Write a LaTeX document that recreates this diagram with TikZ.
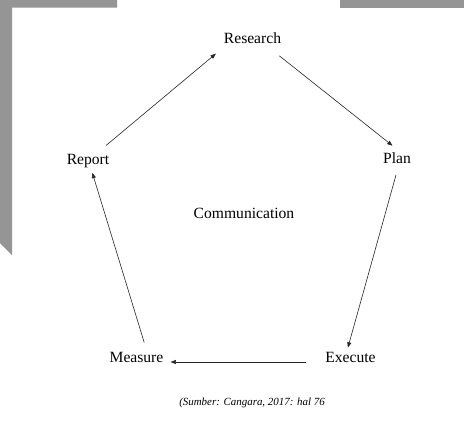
\documentclass[tikz,border=0pt]{standalone}
\usepackage{fontspec}
\setmainfont{Liberation Serif}
\usetikzlibrary{arrows.meta}
\definecolor{margingray}{HTML}{959595}

\begin{document}
\begin{tikzpicture}[x=0.75pt, y=-0.75pt, > = {Triangle[length=4pt, width=3pt]},
    stage/.style = {anchor=base, inner sep=2pt, font=\fontsize{11.7}{14}\selectfont},
    flow/.style = {->, line width=0.45pt, draw=black!85}]

    % page and margins
    \useasboundingbox (0,0) rectangle (464,430);
    \fill[white] (0,0) rectangle (464,430);
    \fill[margingray] (0,0) -- (117,0) -- (117,7.5) -- (12,7.5) -- (12,255) -- (0,243) -- cycle;
    \fill[margingray] (340,0) rectangle (464,7.5);

    % stages
    \node[stage] (research) at (252.5,43) {Research};
    \node[stage] (plan) at (397,163) {Plan};
    \node[stage] (execute) at (350.5,362) {Execute};
    \node[stage] (measure) at (136.5,362) {Measure};
    \node[stage] (report) at (88,164) {Report};
    \node[stage] (comm) at (244,218) {Communication};
    \node[anchor=base, font=\itshape\fontsize{8.2}{10}\selectfont] (source) at (252,405.5) {(Sumber: Cangara, 2017: hal 76};

    % cycle
    \draw[flow, shorten <=6.4pt, shorten >=8.9pt] (report) -- (research.-163);
    \draw[flow, shorten <=11.7pt, shorten >=4.3pt] (research.-30) -- (plan.north);
    \draw[flow, shorten <=7pt, shorten >=1pt] (plan.-80) -- (execute.110);
    \draw[flow, shorten <=12.2pt, shorten >=3.2pt] (execute.base west) -- (measure.base east);
    \draw[flow, shorten <=5pt, shorten >=2pt] (measure.40) -- (report.-70);

\end{tikzpicture}
\end{document}
